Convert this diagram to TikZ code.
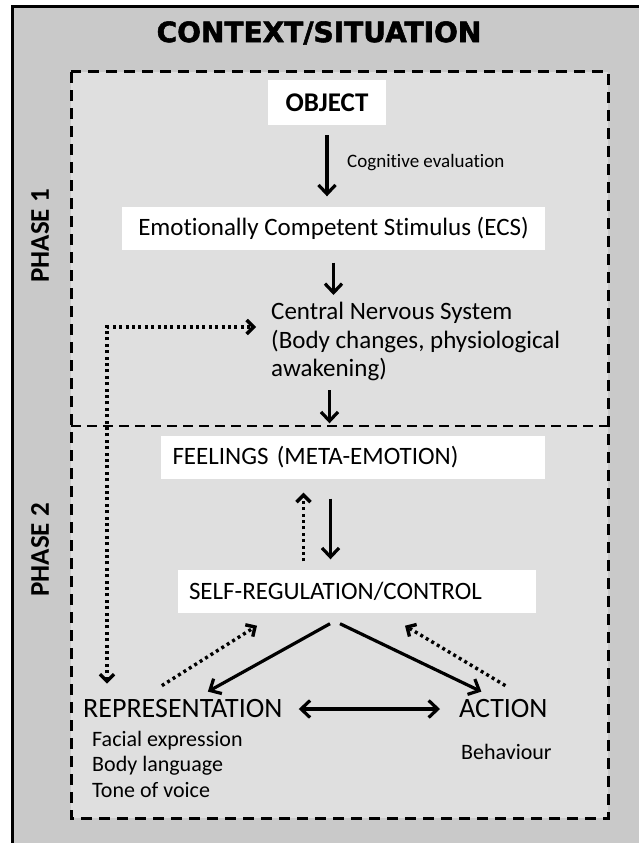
\documentclass[tikz,border=0pt]{standalone}
\usepackage{fontspec}
\setmainfont{Carlito}[Ligatures={TeX,NoCommon}]
\newfontfamily\headfont{DejaVu Sans Bold}[FakeBold=2]
\usetikzlibrary{arrows.meta}
\definecolor{outergray}{RGB}{201,201,201}
\definecolor{innergray}{RGB}{223,223,223}

\begin{document}
\begin{tikzpicture}[x=1pt,y=-1pt,
    >={Straight Barb[length=9pt,width=17pt]},
    whitebox/.style ={fill=white, inner sep=0pt, minimum height=43pt},
    bodytext/.style ={inner sep=0pt, font=\fontsize{25}{28.5}\selectfont},
    phaselabel/.style ={rotate=90, font=\fontsize{27}{30}\selectfont\bfseries},
    solidarrow/.style ={->, line width=3.2pt},
    dotarrow/.style ={-{Straight Barb[length=7pt,width=14pt]}, line width=3.4pt, dash pattern=on 3pt off 3.4pt}]
   \useasboundingbox (0,0) rectangle (638,843);
   \fill[white] (0,0) rectangle (638,843);
   \fill[outergray] (12,7) rectangle (660,870);
   \draw[line width=3pt] (12,870) -- (12,7) -- (660,7);
   \filldraw[fill=innergray, line width=3pt, dash pattern=on 11pt off 7pt] (71,72) rectangle (608,818);
   \draw[line width=2pt, dash pattern=on 10pt off 6pt] (71,426) -- (608,426);

   \node (title) at (319,33) {\headfont\bfseries\fontsize{28}{30}\selectfont CONTEXT/SITUATION};
   \node[phaselabel] (phase1) at (40,236) {PHASE 1};
   \node[phaselabel] (phase2) at (40,550) {PHASE 2};

   \node[whitebox, minimum width=118pt, minimum height=45pt] (object) at (327,102.5)
      {\fontsize{27}{30}\selectfont\bfseries OBJECT};
   \node[inner sep=0pt, anchor=west, font=\fontsize{19}{24}\selectfont] (cogn) at (347,163) {Cognitive evaluation};
   \node[whitebox, minimum width=423pt, font=\fontsize{25}{28.5}\selectfont] (ecs) at (333.5,228)
      {Emotionally Competent Stimulus (ECS)};
   \node[bodytext, anchor=north west, align=left] (cns) at (271,302)
      {Central Nervous System\\(Body changes, physiological\\awakening)};
   \node[whitebox, minimum width=384pt, inner xsep=12pt, text width=360pt, align=left,
      font=\fontsize{25}{28.5}\selectfont] (feelings) at (352.5,457) {FEELINGS (META-EMOTION)};
   \node[whitebox, minimum width=358pt, inner xsep=11pt, text width=336pt, align=left,
      font=\fontsize{25}{28.5}\selectfont] (selfreg) at (357,591) {SELF-REGULATION/CONTROL};
   \node[inner sep=0pt, anchor=west, font=\fontsize{28}{30}\selectfont] (rep) at (83,709) {REPRESENTATION};
   \node[inner sep=0pt, anchor=west, font=\fontsize{28}{30}\selectfont] (action) at (459,709) {ACTION};
   \node[inner sep=0pt, anchor=north west, align=left, font=\fontsize{22}{25.5}\selectfont] (repinfo) at (92,731)
      {Facial expression\\Body language\\Tone of voice};
   \node[inner sep=0pt, anchor=west, font=\fontsize{22}{25.5}\selectfont] (behaviour) at (461,752) {Behaviour};

   \coordinate (corner) at (107,327);

   % phase 1
   \draw[solidarrow, shorten <=10pt, shorten >=10pt] (object.south) -- (object.south |- ecs.north);
   \draw[solidarrow, shorten <=13pt, shorten >=7pt] (ecs.south) -- (ecs.south |- cns.north);
   \draw[solidarrow, shorten <=9pt, shorten >=12pt] ([xshift=-4pt]ecs.south |- cns.south) -- ([xshift=-4pt]ecs.south |- feelings.north);
   \draw[dotarrow, {Straight Barb[length=7pt,width=14pt]}-{Straight Barb[length=7pt,width=14pt]}, shorten <=16pt, shorten >=15pt]
      (corner |- rep.north) -- (corner) -- (cns.west |- corner);

   % phase 2
   \draw[solidarrow, shorten <=20pt, shorten >=10pt] ([xshift=-3pt]ecs.south |- feelings.south) -- ([xshift=-3pt]ecs.south |- selfreg.north);
   \draw[dotarrow, shorten <=8pt, shorten >=14pt] ([xshift=-30pt]ecs.south |- selfreg.north) -- ([xshift=-30pt]ecs.south |- feelings.south);
   \draw[solidarrow] ([xshift=-27pt,yshift=-11pt]selfreg.south) -- ([xshift=25pt,yshift=8pt]rep.north);
   \draw[solidarrow] ([xshift=-17pt,yshift=-11pt]selfreg.south) -- ([xshift=-22pt,yshift=8pt]action.north);
   \draw[dotarrow] ([xshift=-21pt,yshift=14pt]rep.north) -- ([xshift=-100pt,yshift=-13pt]selfreg.south);
   \draw[dotarrow] ([xshift=2pt,yshift=14pt]action.north) -- ([xshift=48pt,yshift=-13pt]selfreg.south);
   \draw[solidarrow, <->, shorten <=16pt, shorten >=19pt] (rep.east) -- (action.west);
\end{tikzpicture}
\end{document}
